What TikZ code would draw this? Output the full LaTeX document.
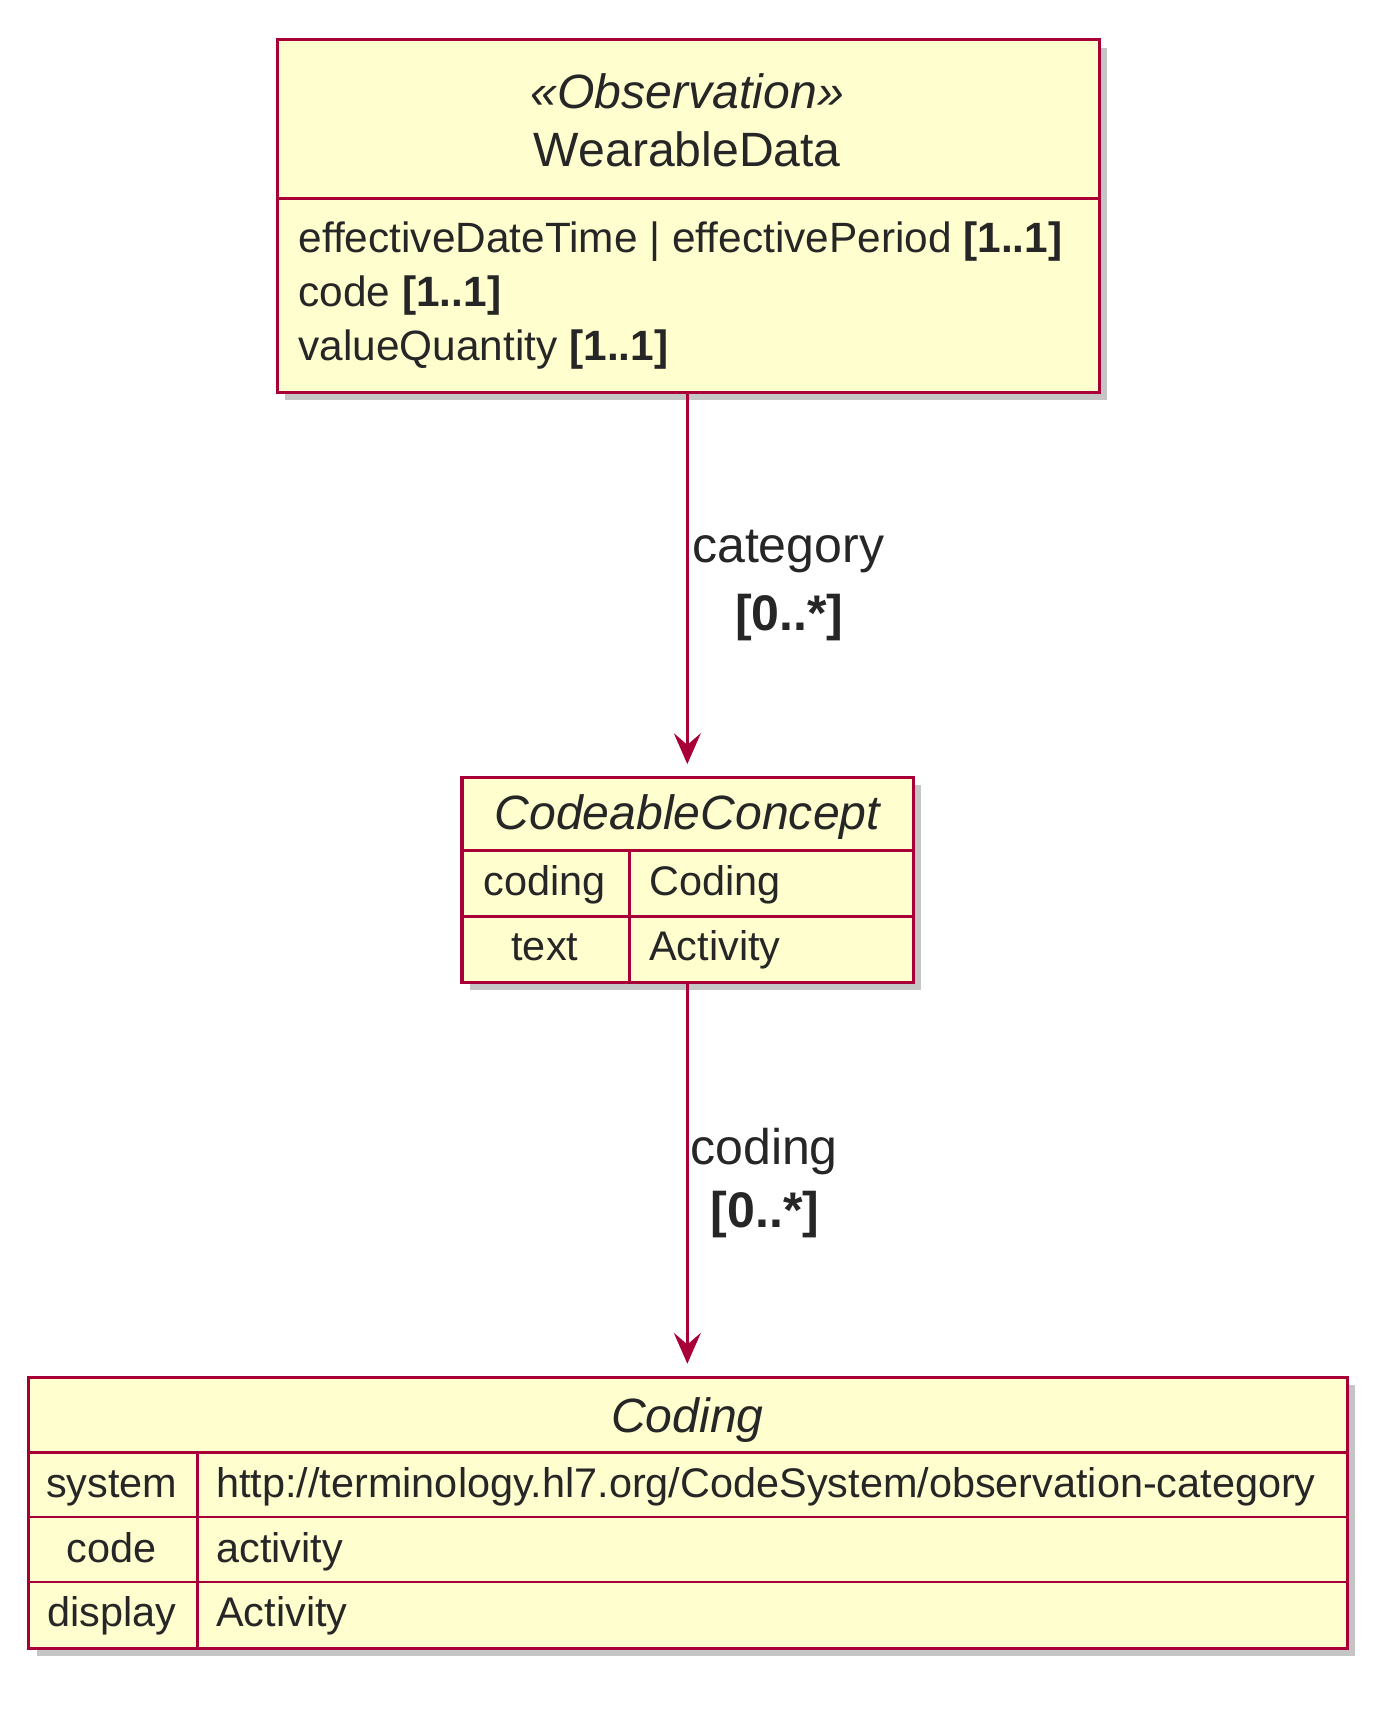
\documentclass[tikz,border=0pt]{standalone}
\usepackage{fontspec}
\setmainfont{Liberation Sans}
\usetikzlibrary{arrows.meta}
\definecolor{umlfill}{HTML}{FEFECE}
\definecolor{umlred}{HTML}{A80036}
\begin{document}
\begin{tikzpicture}[x=0.02cm,y=-0.02cm,
  box/.style={draw=umlred,line width=1.6pt,fill=umlfill,anchor=north west,inner sep=0pt},
  shadow/.style={fill=black!45,opacity=0.5,anchor=north west,inner sep=0pt},
  sep/.style={draw=umlred,line width=1.3pt},
  conn/.style={draw=umlred,line width=1.4pt,-{Stealth[length=16pt,width=14pt,inset=6pt]}},
  big/.style={font=\fontsize{22}{25}\selectfont,text=black!85,inner sep=0pt},
  small/.style={font=\fontsize{21.5}{24}\selectfont,text=black!85,inner sep=0pt},
  title/.style={font=\fontsize{25}{28}\selectfont\itshape,text=black!85,inner sep=0pt},
  lbl/.style={font=\fontsize{26}{29}\selectfont,text=black!85,inner sep=0pt}]
\useasboundingbox (0,0) rectangle (1270,1569);
% shadows
\node[shadow,minimum width=15cm,minimum height=6.44cm] (s1) at (260,43) {};
\node[shadow,minimum width=8.24cm,minimum height=3.74cm] (s2) at (428,716) {};
\node[shadow,minimum width=24.06cm,minimum height=4.94cm] (s3) at (33,1263) {};
% boxes
\node[box,minimum width=15cm,minimum height=6.44cm] (wd) at (252,35) {};
\node[box,minimum width=8.24cm,minimum height=3.74cm] (cc) at (420,708) {};
\node[box,minimum width=24.06cm,minimum height=4.94cm] (cd) at (25,1255) {};
% WearableData
\coordinate (w1) at (252,181); \coordinate (w2) at (1002,181);
\draw[sep] (w1) -- (w2);
\node[title] (st) at (627,83) {«Observation»};
\node[title,font=\fontsize{25}{28}\selectfont] (wn) at (627,136) {WearableData};
\node[big,anchor=base west] (a1) at (272,230) {effectiveDateTime | effectivePeriod \textbf{[1..1]}};
\node[big,anchor=base west] (a2) at (272,280) {code \textbf{[1..1]}};
\node[big,anchor=base west] (a3) at (272,329) {valueQuantity \textbf{[1..1]}};
% CodeableConcept
\coordinate (c1) at (420,776); \coordinate (c2) at (832,776);
\coordinate (c3) at (420,836); \coordinate (c4) at (832,836);
\coordinate (c5) at (574,776); \coordinate (c6) at (574,895);
\draw[sep] (c1) -- (c2); \draw[sep] (c3) -- (c4); \draw[sep] (c5) -- (c6);
\node[title] (cct) at (627,745) {CodeableConcept};
\node[small,anchor=base] (r1a) at (497,817) {coding};
\node[small,anchor=base west] (r1b) at (592,817) {Coding};
\node[small,anchor=base] (r2a) at (497,876) {text};
\node[small,anchor=base west] (r2b) at (592,876) {Activity};
% Coding
\coordinate (d1) at (25,1325); \coordinate (d2) at (1228,1325);
\coordinate (d3) at (25,1384); \coordinate (d4) at (1228,1384);
\coordinate (d5) at (25,1443); \coordinate (d6) at (1228,1443);
\coordinate (d7) at (180,1325); \coordinate (d8) at (180,1502);
\draw[sep] (d1) -- (d2); \draw[sep] (d3) -- (d4); \draw[sep] (d5) -- (d6); \draw[sep] (d7) -- (d8);
\node[title] (cdt) at (627,1295) {Coding};
\node[small,anchor=base] (s1a) at (102,1366) {system};
\node[small,anchor=base west] (s1b) at (197,1366) {http://terminology.hl7.org/CodeSystem/observation-category};
\node[small,anchor=base] (s2a) at (102,1425) {code};
\node[small,anchor=base west] (s2b) at (197,1425) {activity};
\node[small,anchor=base] (s3a) at (102,1484) {display};
\node[small,anchor=base west] (s3b) at (197,1484) {Activity};
% connectors
\coordinate (wb) at (627,357); \coordinate (ct) at (627,697);
\coordinate (cb) at (627,895); \coordinate (dt) at (627,1244);
\draw[conn] (wb) -- (ct);
\draw[conn] (cb) -- (dt);
\node[lbl] (l1) at (719,503) {category};
\node[lbl] (l1m) at (720,563) {\textbf{[0..*]}};
\node[lbl] (l2) at (697,1050) {coding};
\node[lbl] (l2m) at (698,1108) {\textbf{[0..*]}};
\end{tikzpicture}
\end{document}
